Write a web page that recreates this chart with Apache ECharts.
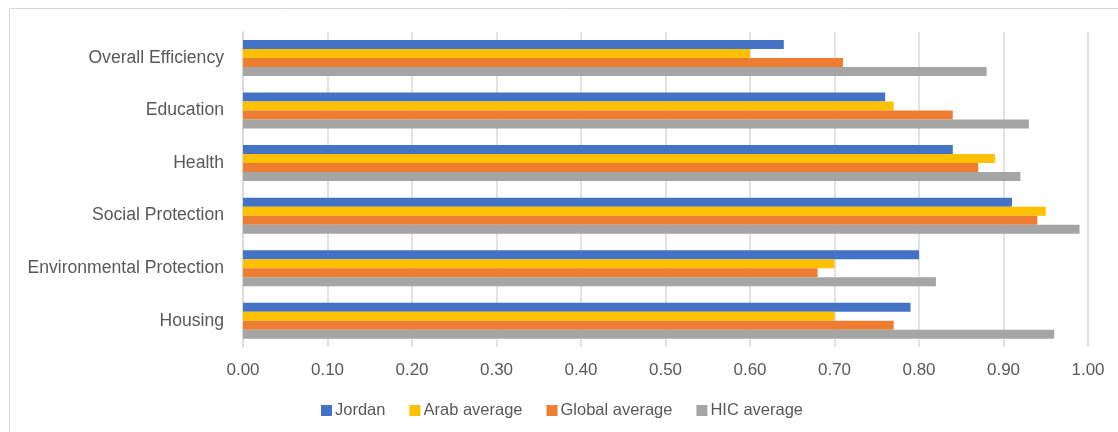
<!DOCTYPE html>
<html>
<head>
<meta charset="utf-8">
<script src="https://cdn.jsdelivr.net/npm/echarts@6/dist/echarts.min.js"></script>
<style>
html,body{margin:0;padding:0;background:#fff;}
#chart{width:1118px;height:432px;}
</style>
</head>
<body>
<div id="chart"></div>
<script>
const categories = ["Overall Efficiency", "Education", "Health", "Social Protection", "Environmental Protection", "Housing"];
const seriesNames = ["Jordan", "Arab average", "Global average", "HIC average"];
const jordan = [0.64, 0.76, 0.84, 0.91, 0.80, 0.79];
const arabAverage = [0.60, 0.77, 0.89, 0.95, 0.70, 0.70];
const globalAverage = [0.71, 0.84, 0.87, 0.94, 0.68, 0.77];
const hicAverage = [0.88, 0.93, 0.92, 0.99, 0.82, 0.96];
const colors = ["#4472C4", "#FFC000", "#ED7D31", "#A5A5A5"];

const font = "Liberation Sans";
const textColor = "#595959";
const chart = echarts.init(document.getElementById('chart'), null, {renderer: 'canvas'});
const allData = [jordan, arabAverage, globalAverage, hicAverage];
chart.setOption({
  animation: false,
  color: colors,
  graphic: [{
    type: 'rect',
    shape: {x: 9.5, y: 8.5, width: 1300, height: 1000},
    style: {fill: 'none', stroke: '#d9d9d9', lineWidth: 1},
    silent: true
  }],
  grid: {left: 243, right: 30, top: 31.7, bottom: 85, containLabel: false},
  legend: {
    left: 321, top: 402, padding: 0,
    itemWidth: 11, itemHeight: 11, itemGap: 24,
    icon: 'rect',
    textStyle: {fontFamily: font, fontSize: 16.5, color: textColor, padding: [0, 0, 0, -2]},
    data: seriesNames
  },
  xAxis: {
    type: 'value', min: 0, max: 1, interval: 0.1,
    axisLine: {show: false}, axisTick: {show: false},
    splitLine: {show: true, lineStyle: {color: '#d9d9d9', width: 1.5}},
    axisLabel: {fontFamily: font, fontSize: 17, color: textColor, margin: 15,
      formatter: v => v.toFixed(2)}
  },
  yAxis: {
    type: 'category', data: categories, inverse: true,
    axisLine: {show: true, lineStyle: {color: '#d9d9d9', width: 1.5}},
    axisTick: {show: false},
    axisLabel: {fontFamily: font, fontSize: 17.6, color: textColor, margin: 19}
  },
  series: seriesNames.map((n, i) => ({
    name: n, type: 'bar', data: allData[i],
    barWidth: 9, barGap: '0%',
    itemStyle: {color: colors[i]}
  }))
});
</script>
</body>
</html>
